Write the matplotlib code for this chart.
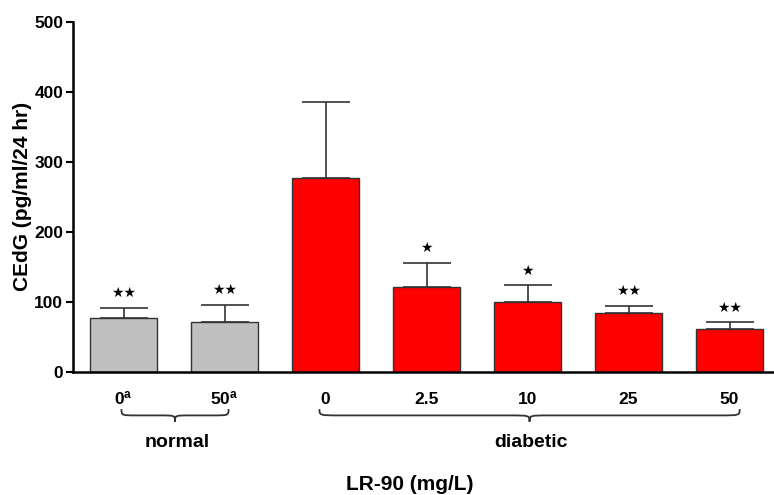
import matplotlib
matplotlib.use("Agg")
import matplotlib.pyplot as plt
from matplotlib.path import Path
from matplotlib.patches import PathPatch

plt.rcParams['font.family'] = ['Liberation Sans', 'DejaVu Sans']
plt.rcParams['font.weight'] = 'bold'
plt.rcParams['mathtext.default'] = 'regular'

tick_labels = ["0$^{\\mathregular{a}}$", "50$^{\\mathregular{a}}$", "0", "2.5", "10", "25", "50"]
means = [77.6, 72.0, 277.6, 121.0, 100.0, 84.8, 61.4]
errors = [14.3, 24.2, 107.6, 34.7, 23.8, 9.5, 9.6]
signif = ["★★", "★★", "", "★", "★", "★★", "★★"]
groups = ["normal", "normal", "diabetic", "diabetic", "diabetic", "diabetic", "diabetic"]
group_names = ["normal", "diabetic"]
colors_map = {"normal": "#C0C0C0", "diabetic": "#FF0000"}

fig = plt.figure(figsize=(7.74, 4.95), dpi=100)
ax = fig.add_axes([73/774, 123/495, 1 - 73/774, 350/495])

x = list(range(len(means)))
bar_colors = [colors_map[g] for g in groups]
ax.bar(x, means, width=0.665, color=bar_colors, edgecolor="#333333", linewidth=1.0, zorder=2)
ax.errorbar(x, means, yerr=[[0]*len(errors), errors], fmt='none', ecolor="#333333",
            elinewidth=1.2, capsize=17, capthick=1.2, zorder=1)

for xi, m, e, s in zip(x, means, errors, signif):
    if s:
        ax.text(xi, m + e + 21, s, ha='center', va='center', fontsize=10,
                family='DejaVu Sans', color='black')

ax.set_xlim(-0.5, 6.44)
ax.set_ylim(0, 500)
ax.set_yticks([0, 100, 200, 300, 400, 500])
ax.tick_params(axis='y', direction='out', length=5, width=1.5, labelsize=12.5, pad=2)
for lab in ax.get_yticklabels():
    lab.set_fontweight('bold')
ax.set_xticks([])

# x category labels on a common baseline
for xi, lab in zip(x, tick_labels):
    ax.text(xi, -45.7, lab, ha='center', va='baseline', fontsize=12.5, fontweight='bold',
            clip_on=False)

ax.spines['top'].set_visible(False)
ax.spines['right'].set_visible(False)
ax.spines['left'].set_linewidth(1.8)
ax.spines['bottom'].set_linewidth(1.8)

fig.text(23/774, 1 - 196/495, "CEdG (pg/ml/24 hr)", rotation=90, ha='center', va='center',
         fontsize=15, fontweight='bold')
fig.text(410/774, 1 - 490/495, "LR-90 (mg/L)", ha='center', va='baseline',
         fontsize=15, fontweight='bold')

# braces
def brace(x0, x1, ytop, ybot, r):
    xc = (x0 + x1) / 2
    ymid = ytop + (ybot - ytop) * 0.5
    verts = [
        (x0, ytop), (x0, ymid), (x0, ymid), (x0 + r, ymid),
        (xc - r, ymid),
        (xc, ymid), (xc, ymid), (xc, ybot),
        (xc, ymid), (xc, ymid), (xc + r, ymid),
        (x1 - r, ymid),
        (x1, ymid), (x1, ymid), (x1, ytop),
    ]
    codes = [Path.MOVETO, Path.CURVE4, Path.CURVE4, Path.CURVE4,
             Path.LINETO,
             Path.CURVE4, Path.CURVE4, Path.CURVE4,
             Path.CURVE4, Path.CURVE4, Path.CURVE4,
             Path.LINETO,
             Path.CURVE4, Path.CURVE4, Path.CURVE4]
    p = PathPatch(Path(verts, codes), fill=False, edgecolor="#333333", linewidth=1.3,
                  clip_on=False)
    ax.add_patch(p)

ytop, ybot = -53, -71
brace(-0.02, 1.04, ytop, ybot, 0.15)
brace(1.94, 6.10, ytop, ybot, 0.2)

for name in group_names:
    idx = [i for i, g in enumerate(groups) if g == name]
    xc = (min(idx) + max(idx)) / 2
    ax.text(xc + 0.03, -107, name, ha='center', va='baseline', fontsize=14, fontweight='bold',
            clip_on=False)

fig.savefig("out.png", dpi=100)
